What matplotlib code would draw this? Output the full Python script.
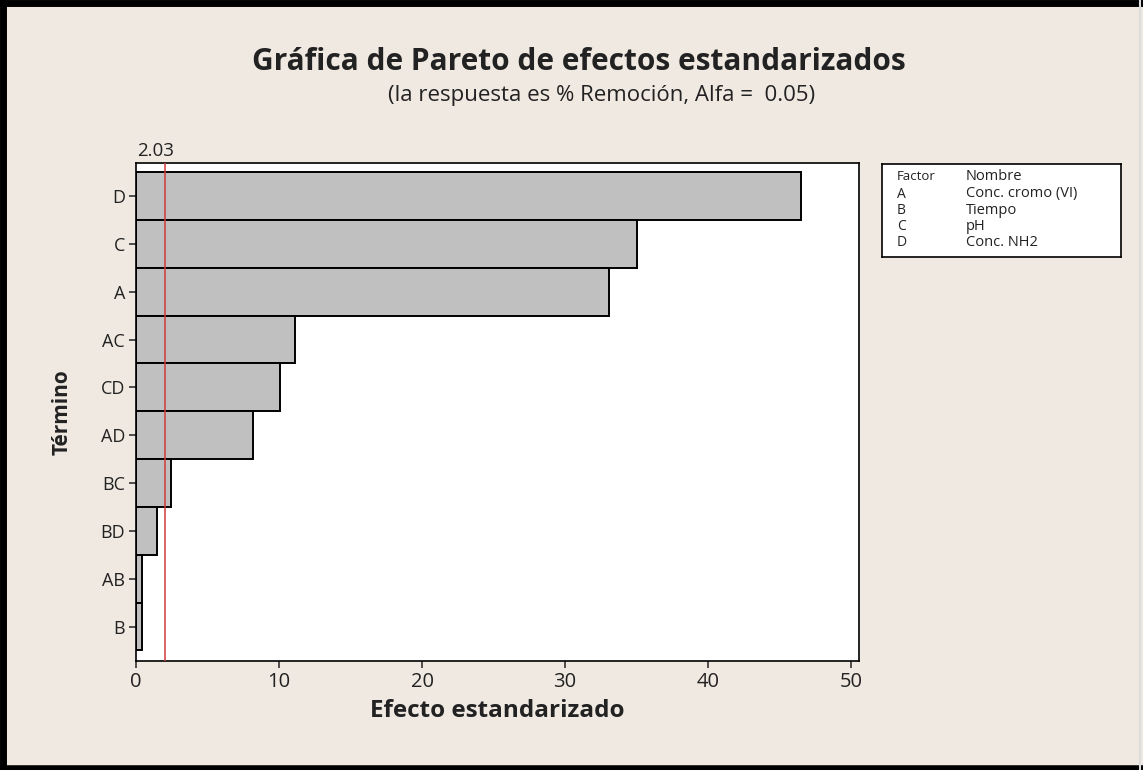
import matplotlib
matplotlib.use("Agg")
import matplotlib.pyplot as plt
from matplotlib.lines import Line2D

terms = ["D", "C", "A", "AC", "CD", "AD", "BC", "BD", "AB", "B"]
effects = [46.5, 35.0, 33.1, 11.1, 10.1, 8.2, 2.45, 1.45, 0.45, 0.45]
critical = 2.03
xticks = [0, 10, 20, 30, 40, 50]
legend_factors = ["A", "B", "C", "D"]
legend_names = ["Conc. cromo (VI)", "Tiempo", "pH", "Conc. NH2"]

plt.rcParams['font.family'] = ['Open Sans', 'DejaVu Sans']
bg = '#f0e9e2'
txt = '#222222'
W, H = 1143, 770
fig = plt.figure(figsize=(W/100, H/100), dpi=100, facecolor=bg)
ax = fig.add_axes([136/W, 1-661/H, (859-136)/W, (661-163)/H])
ax.set_facecolor('white')

n = len(terms)
ypos = [n - 1 - i for i in range(n)]
ax.barh(ypos, effects, height=1.0, color='#c0c0c0', edgecolor='black', linewidth=1.4, zorder=2)
ax.axvline(critical, color='#d03a3a', linewidth=1.1, zorder=3)
ax.set_ylim(-0.72, n - 1 + 0.69)
ax.set_xlim(0, 50.55)
ax.set_yticks(ypos)
ax.set_yticklabels(terms, fontsize=13, color=txt)
ax.set_xticks(xticks)
ax.set_xticklabels([str(t) for t in xticks], fontsize=14.5, color=txt)
ax.tick_params(axis='both', direction='out', length=5, width=1.2, color='#333333', pad=3)
ax.tick_params(axis='x', pad=3)
for s in ax.spines.values():
    s.set_linewidth(1.2)
ax.set_xlabel("Efecto estandarizado", fontsize=17.5, fontweight='bold', labelpad=5, color=txt)
ax.set_ylabel("Término", fontsize=15, fontweight='bold', labelpad=20, color=txt)
ax.text(0.1, 1.006, "2.03", transform=ax.get_xaxis_transform(), ha='left', va='bottom',
        fontsize=13.5, color=txt)

fig.text(579 / W, 1 - 62 / H, "Gráfica de Pareto de efectos estandarizados",
         ha='center', va='center', fontsize=21.5, fontweight='bold', color=txt)
fig.text(602 / W, 1 - 95 / H, "(la respuesta es % Remoción, Alfa =  0.05)",
         ha='center', va='center', fontsize=16, color=txt)

# legend box
lx0, lx1, ly0, ly1 = 882, 1121, 164, 257
lax = fig.add_axes([lx0/W, 1-ly1/H, (lx1-lx0)/W, (ly1-ly0)/H])
lax.set_xticks([]); lax.set_yticks([])
lax.set_facecolor('white')
for s in lax.spines.values():
    s.set_linewidth(1.2)
rows_y = [177, 194, 210, 226, 242]
fig.text(897/W, 1-rows_y[0]/H, "Factor", fontsize=9.5, va='center', color=txt)
fig.text(966/W, 1-rows_y[0]/H, "Nombre", fontsize=10.5, va='center', color=txt)
for i, (f, nm) in enumerate(zip(legend_factors, legend_names)):
    fig.text(897/W, 1-rows_y[i+1]/H, f, fontsize=10, va='center', color=txt)
    fig.text(966/W, 1-rows_y[i+1]/H, nm, fontsize=10.5, va='center', color=txt)

# outer frame
fig.add_artist(Line2D([0, 1], [1 - 2.5/H, 1 - 2.5/H], transform=fig.transFigure, color='black', lw=5))
fig.add_artist(Line2D([2.5/W, 2.5/W], [0, 1], transform=fig.transFigure, color='black', lw=5))
fig.add_artist(Line2D([0, 1], [2/H, 2/H], transform=fig.transFigure, color='black', lw=4))
fig.add_artist(Line2D([1 - 3/W, 1 - 3/W], [0, 1], transform=fig.transFigure, color='#dddddd', lw=1.5))

fig.savefig("out.png", dpi=100, facecolor=bg)
